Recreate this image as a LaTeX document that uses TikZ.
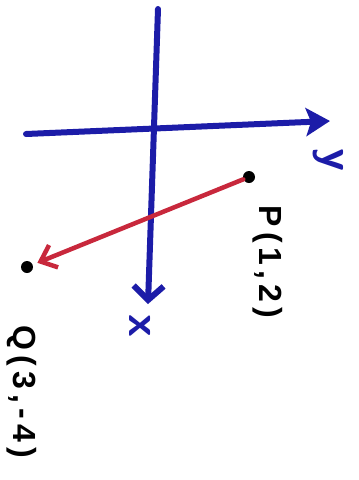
\documentclass[tikz,border=0pt]{standalone}
\usepackage{fontspec}
\usetikzlibrary{arrows.meta,positioning}
\newfontfamily\handfont[LetterSpace=16]{Liberation Sans}
\definecolor{Ink}{HTML}{1C1CA8}
\definecolor{Marker}{HTML}{C8283C}

\begin{document}
\begin{tikzpicture}[x=1pt,y=-1pt,
    axis/.style={line width=6pt,Ink,line cap=round},
    vec/.style={line width=4.5pt,Marker,line cap=round,shorten >=5pt,
      -{Straight Barb[length=14pt,width=24pt]}},
    dot/.style={circle,fill=black,inner sep=0pt,minimum size=12pt},
    lbl/.style={rotate=-90,font=\handfont\bfseries\fontsize{32}{32}\selectfont},
    axlbl/.style={rotate=-90,Ink,font=\bfseries\sffamily\fontsize{46}{46}\selectfont}
  ]
    \useasboundingbox (0,0) rectangle (359,480);
    % axes
    \coordinate (xtop) at (158,9);
    \coordinate (xtip) at (148,304);
    \coordinate (yleft) at (26,134);
    \coordinate (ytip) at (330,121);
    \draw[axis,-{Straight Barb[length=14pt,width=30pt]}] (xtop) -- (xtip);
    \draw[axis,-{Stealth[length=24pt,width=28pt,inset=5pt]}] (yleft) -- (ytip);
    \node[axlbl] (xlab) at (140,326) {x};
    \node[axlbl] (ylab) at (328,160) {y};
    % points
    \node[dot] (P) at (249,177) {};
    \node[dot] (Q) at (27,267) {};
    \draw[vec] (P) -- (Q);
    \node[lbl] (Plab) at (268,262) {P(1,2)};
    \node[lbl] (Qlab) at (22,392) {Q(3,-4)};
  \end{tikzpicture}
\end{document}
